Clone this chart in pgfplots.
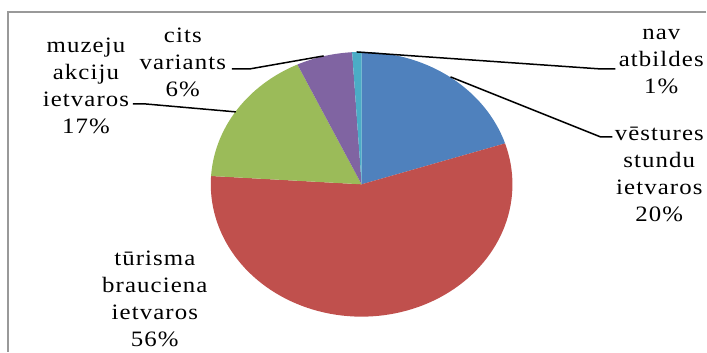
\documentclass[border=0pt]{standalone}
\usepackage{fontspec}
\usepackage{pgfplots}
\pgfplotsset{compat=1.18}
\newfontfamily\lab[FakeStretch=1.13, LetterSpace=5]{Liberation Serif}
\definecolor{sblue}{HTML}{4F81BD}
\definecolor{sred}{HTML}{C0504D}
\definecolor{sgreen}{HTML}{9BBB59}
\definecolor{spurple}{HTML}{8064A2}
\definecolor{scyan}{HTML}{4BACC6}
% shares (percent), clockwise from 12 o'clock
\def\pA{20}% vestures stundu ietvaros
\def\pB{56}% turisma brauciena ietvaros
\def\pC{17}% muzeju akciju ietvaros
\def\pD{6}%  cits variants
\def\pE{1}%  nav atbildes
\begin{document}
\begin{tikzpicture}
\begin{axis}[
  scale only axis, width=707pt, height=352pt,
  xmin=0, xmax=707, ymin=0, ymax=352, y dir=reverse,
  hide axis, clip=false,
  every axis plot/.append style={draw=none, samples=90, variable=\t},
]
\pgfmathsetmacro\aA{90}
\pgfmathsetmacro\aB{\aA-3.6*\pA}
\pgfmathsetmacro\aC{\aB-3.6*\pB}
\pgfmathsetmacro\aD{\aC-3.6*\pC}
\pgfmathsetmacro\aE{\aD-3.6*\pD}
\pgfmathsetmacro\aF{\aE-3.6*\pE}
\addplot[fill=sblue, domain=\aB:\aA] ({362+151*cos(t)},{184.5-132.5*sin(t)}) -- (axis cs:362,184.5) -- cycle;
\addplot[fill=sred, domain=\aC:\aB] ({362+151*cos(t)},{184.5-132.5*sin(t)}) -- (axis cs:362,184.5) -- cycle;
\addplot[fill=sgreen, domain=\aD:\aC] ({362+151*cos(t)},{184.5-132.5*sin(t)}) -- (axis cs:362,184.5) -- cycle;
\addplot[fill=spurple, domain=\aE:\aD] ({362+151*cos(t)},{184.5-132.5*sin(t)}) -- (axis cs:362,184.5) -- cycle;
\addplot[fill=scyan, domain=\aF:\aE] ({362+151*cos(t)},{184.5-132.5*sin(t)}) -- (axis cs:362,184.5) -- cycle;
% frame
\draw[gray!80, line width=1.5pt] (axis cs:707,12) -- (axis cs:8,12) -- (axis cs:8,352);
% leader lines
\draw[black, line width=1.5pt] (axis cs:357,52) -- (axis cs:601,69) -- (axis cs:616,69);
\draw[black, line width=1.5pt] (axis cs:451,77) -- (axis cs:601,137) -- (axis cs:613,137);
\draw[black, line width=1.5pt] (axis cs:324,56) -- (axis cs:250,69) -- (axis cs:232,69);
\draw[black, line width=1.5pt] (axis cs:236,112) -- (axis cs:145,104) -- (axis cs:133,104);
% labels
\tikzset{lbl/.style={align=center, inner sep=0pt, font={\fontsize{22}{27}\selectfont\lab}}}
\node[lbl] at (axis cs:662,62) {nav\\atbildes\\1\%};
\node[lbl] at (axis cs:660,175) {vēstures\\stundu\\ietvaros\\20\%};
\node[lbl] at (axis cs:183,62) {cits\\variants\\6\%};
\node[lbl] at (axis cs:86,86) {muzeju\\akciju\\ietvaros\\17\%};
\node[lbl] at (axis cs:155,299) {tūrisma\\brauciena\\ietvaros\\56\%};
\end{axis}
\useasboundingbox (0,0) rectangle (707pt,352pt);
\end{tikzpicture}
\end{document}
